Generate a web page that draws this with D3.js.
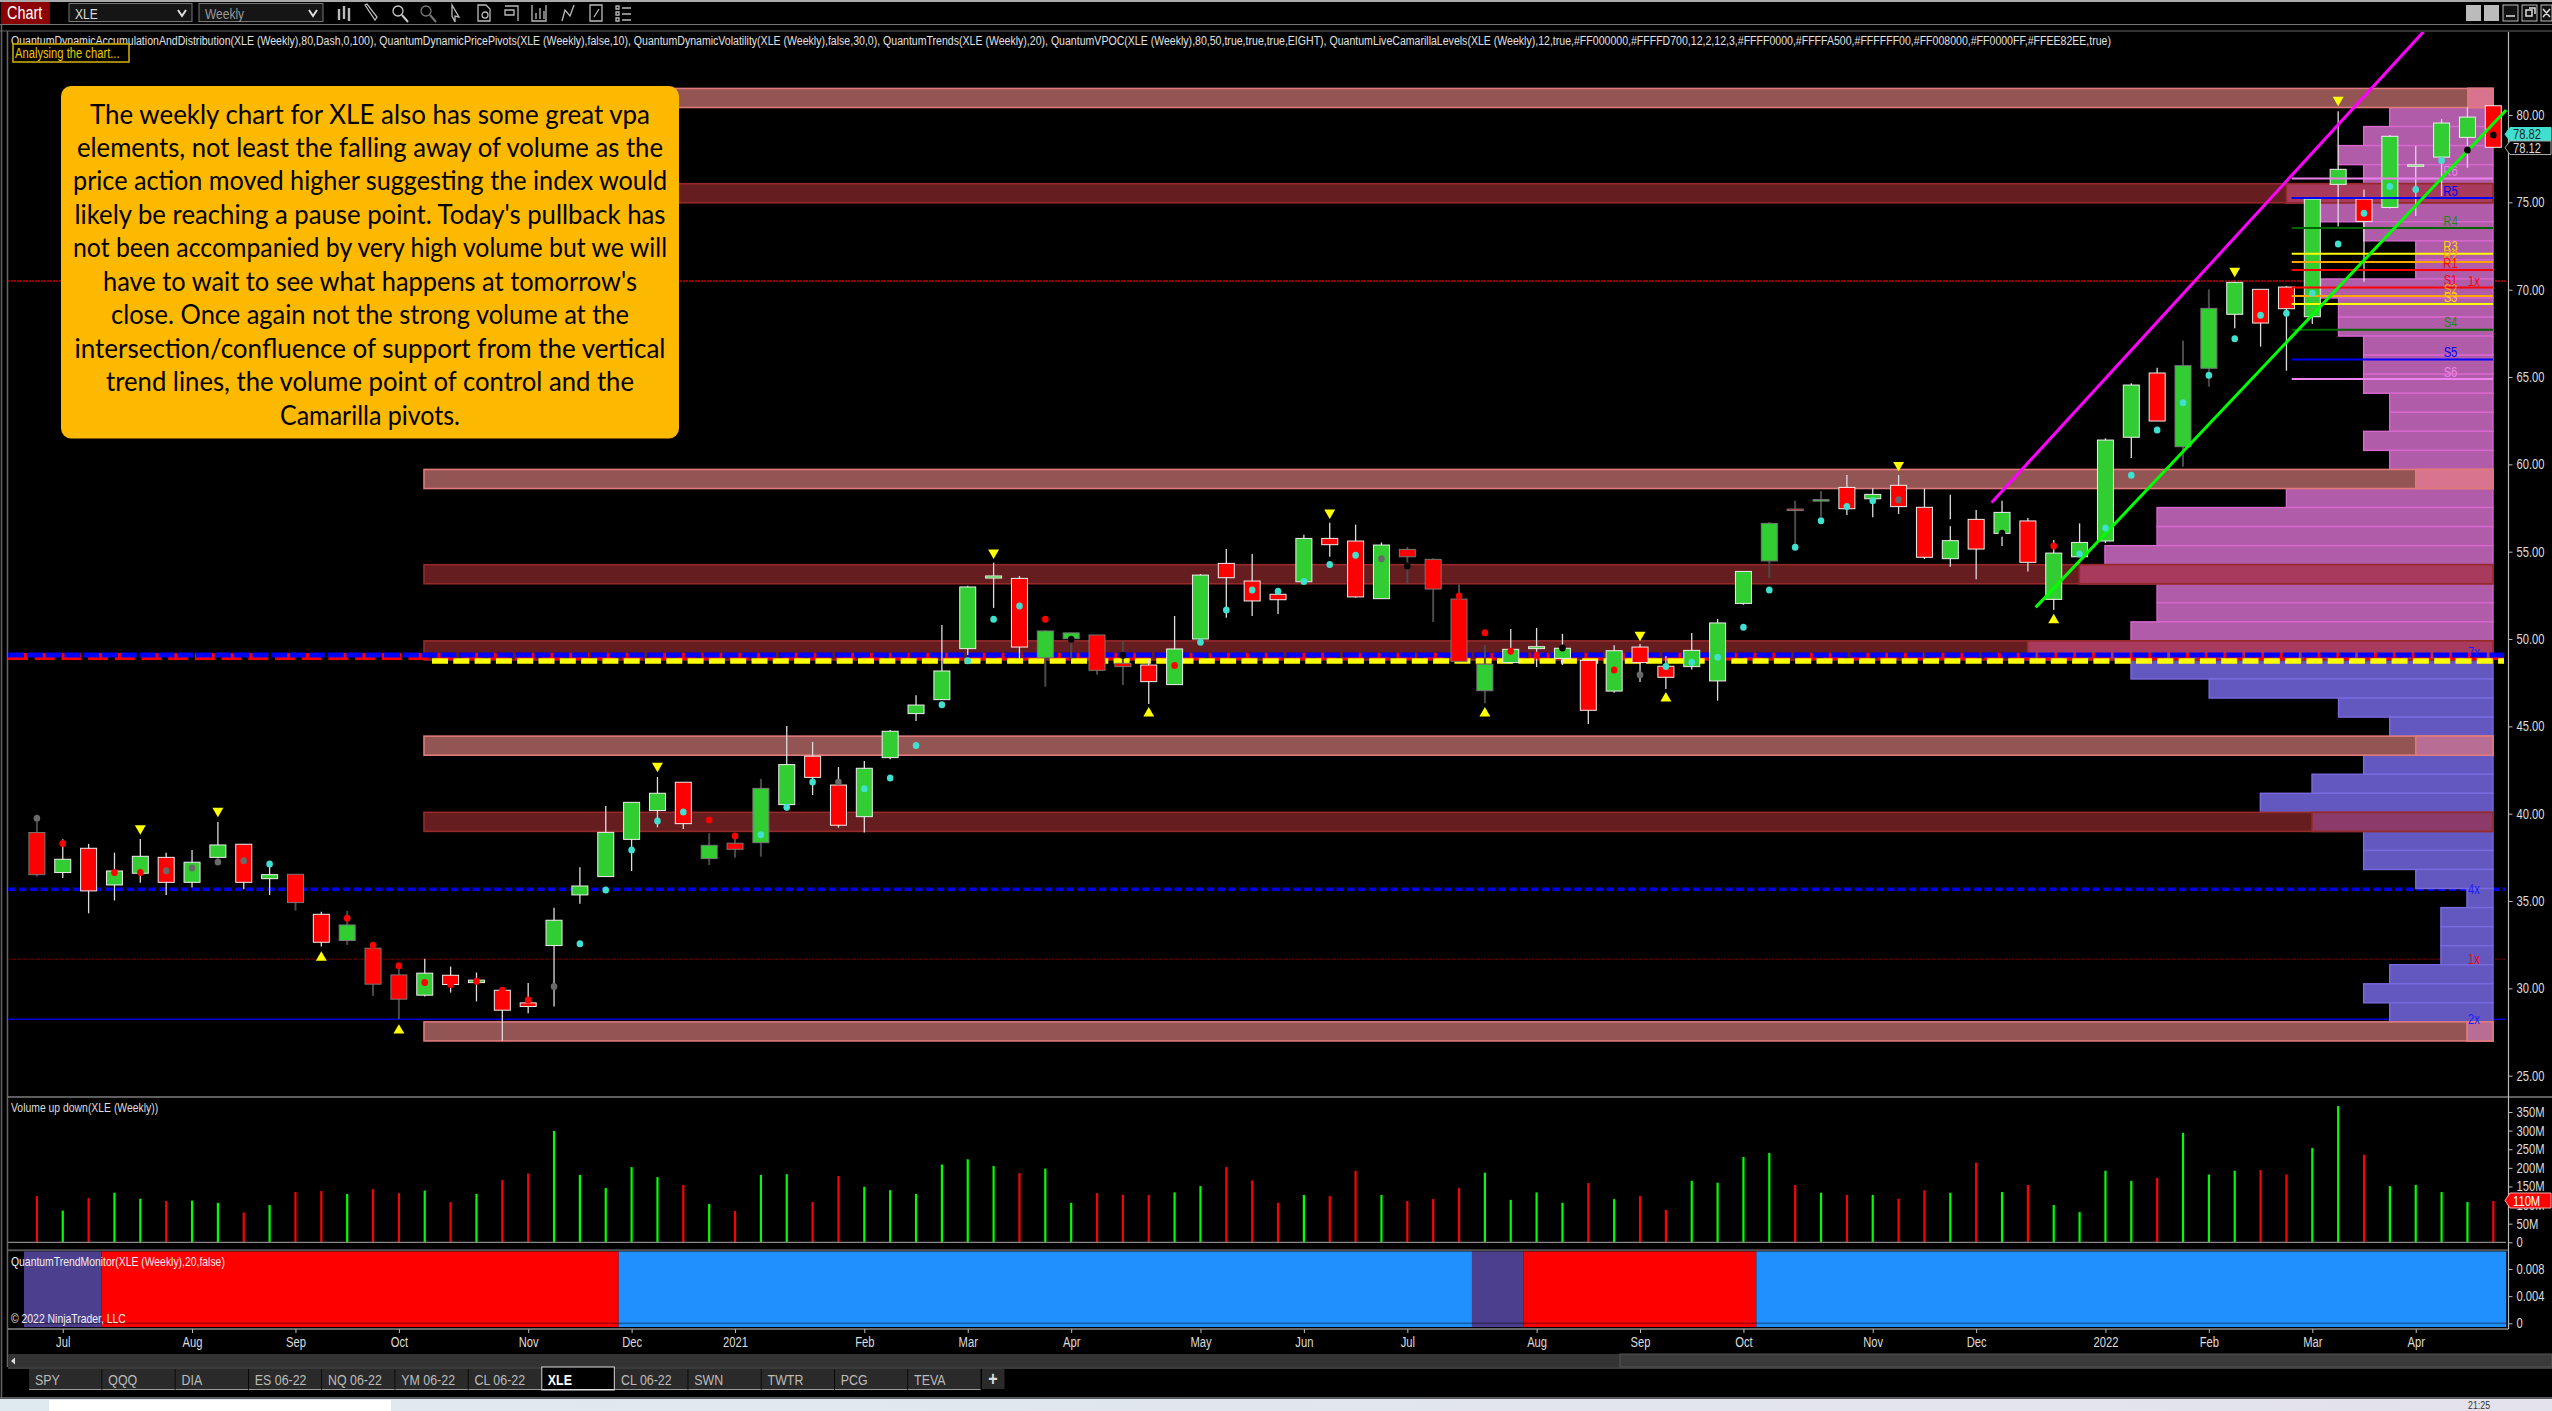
<!DOCTYPE html>
<html><head><meta charset="utf-8">
<style>
html,body{margin:0;padding:0;background:#000;overflow:hidden}
svg{display:block}
text{font-family:"Liberation Sans",Arial,sans-serif;}
</style>
<script src="https://d3js.org/d3.v7.min.js"></script>
</head><body><svg id="c" width="2552" height="1411" viewBox="0 0 2552 1411"></svg>
<script>
// ---- DATA ----
const opens=[38.92,36.63,38.02,35.92,36.59,37.50,36.07,37.50,38.25,36.28,36.53,34.24,32.74,32.30,30.77,29.61,30.75,30.33,29.89,29.17,32.45,35.35,36.40,38.53,40.18,41.80,37.43,38.31,38.34,40.52,43.29,41.64,39.83,43.21,45.73,46.53,49.45,53.49,53.47,48.93,50.02,50.23,48.61,48.51,47.39,50.00,54.33,53.32,52.56,53.28,55.76,55.61,52.31,55.13,54.56,52.29,47.04,48.65,49.45,48.89,48.78,47.02,49.54,48.44,48.42,47.60,52.04,54.47,57.44,57.90,58.68,58.03,58.80,57.54,54.60,56.85,56.05,56.76,52.27,54.71,55.61,61.55,65.23,61.01,65.50,68.59,70.02,70.15,68.45,76.03,75.19,74.71,77.10,77.59,78.72,80.53];
const highs=[39.55,38.53,38.27,37.77,38.55,37.77,37.92,39.53,38.25,37.12,36.53,34.38,34.44,32.30,31.15,31.69,31.25,30.91,29.89,30.30,34.61,36.93,40.44,40.65,42.10,41.80,38.88,38.55,41.99,45.02,44.11,42.67,43.02,44.79,46.78,50.80,53.05,54.37,53.61,50.52,50.35,50.23,49.89,48.84,51.32,53.72,55.15,54.87,52.73,55.97,56.66,56.55,55.53,55.27,54.62,53.13,49.66,50.57,50.63,50.29,48.78,49.64,49.72,49.03,50.35,51.15,53.87,56.70,57.92,58.47,59.39,58.63,59.39,58.61,58.26,57.39,57.92,56.93,55.67,56.62,61.49,64.64,65.53,67.08,70.02,70.46,70.02,70.21,75.19,80.21,75.74,78.86,78.22,79.77,80.44,80.53];
const lows=[36.40,36.32,34.30,35.03,36.05,35.35,35.77,37.45,35.67,35.35,34.45,32.39,32.49,29.57,28.23,29.53,29.76,29.25,27.00,28.58,28.96,34.84,36.40,36.72,39.22,39.13,37.06,37.48,37.54,40.18,41.07,39.20,38.93,43.11,45.31,46.53,49.09,51.78,48.89,47.27,48.89,47.96,47.37,46.28,47.39,50.00,51.22,51.32,51.43,53.28,54.71,52.37,52.31,53.15,50.97,48.72,46.32,48.61,48.40,48.51,45.14,46.93,47.54,47.14,48.26,46.47,51.96,53.49,55.29,57.00,57.10,56.97,57.16,54.58,54.14,53.42,55.32,53.86,51.66,54.71,55.50,60.36,62.48,59.87,64.45,67.79,66.74,65.36,68.03,73.61,70.46,74.65,74.22,75.36,76.98,78.15];
const closes=[36.51,37.39,35.58,36.72,37.56,36.07,37.22,38.21,36.07,36.51,34.91,32.64,33.63,30.24,29.38,30.87,30.22,30.47,28.75,28.96,33.90,35.86,38.93,40.65,41.17,39.43,38.19,37.96,41.45,42.81,42.08,39.34,42.60,44.72,46.22,48.17,52.98,53.61,49.54,50.46,50.35,48.21,48.42,47.56,49.43,53.66,53.51,52.18,52.25,55.76,55.40,52.41,55.38,54.71,52.86,48.72,48.55,49.41,49.56,49.47,45.92,49.33,48.65,47.81,49.35,50.92,53.87,56.62,57.37,57.98,57.46,58.28,57.58,54.68,55.63,55.15,57.25,54.39,54.92,55.53,61.39,64.54,62.48,65.65,68.93,70.42,68.09,68.91,75.19,76.89,73.91,78.78,77.15,79.54,79.88,78.15];
const dotPrices=[39.74,38.29,null,36.63,36.63,36.74,36.89,37.24,37.31,37.12,null,34.97,34.02,32.47,31.29,30.33,30.22,30.41,29.89,29.34,30.10,32.55,35.63,37.92,39.58,40.10,39.64,38.72,38.80,40.37,41.82,41.82,41.43,42.05,43.91,46.24,48.76,51.13,51.89,51.13,49.98,null,49.07,null,48.49,49.81,51.66,52.81,52.73,53.30,54.26,54.79,54.60,54.18,null,52.46,50.36,49.30,49.07,49.49,null,48.23,47.96,48.42,48.67,48.95,50.67,52.81,55.25,56.77,57.58,57.92,57.98,57.31,56.66,null,56.05,null,55.32,54.87,56.36,59.37,61.97,63.53,65.10,67.19,68.53,68.65,69.79,72.61,74.37,75.90,75.74,77.40,78.00,78.85];
const dotKinds="grnrrggggcgnrrrrrrrrgcccccrrcccgcccccccrnrncrcccccccgnrrrrrnrrgcccccccccgrnrnrrccccccccccccccc".split("");
const downMarkers=[[4,39.16],[7,40.16],[24,42.73],[37,54.94],[50,57.23],[62,50.23],[72,59.96],[85,71.07],[89,80.86]];
const upMarkers=[[11,31.76],[14,27.59],[43,45.75],[56,45.75],[63,46.61],[78,51.09]];
const darkWicks=[0,10,12,13,14,26,27,28,39,40,41,42,53,54,55,56,67,68,69,83,84];
const volumes=[124,85,119,133,117,111,112,106,80,100,135,138,130,143,132,139,108,130,167,185,299,181,146,202,175,154,103,84,181,183,108,178,149,140,130,209,223,205,186,198,106,132,128,127,134,151,202,166,106,127,124,192,127,111,116,146,187,114,134,106,159,116,124,87,165,160,229,240,154,133,127,127,117,140,133,214,135,154,100,81,192,165,173,294,182,192,194,182,253,366,235,151,154,135,108,111];
const monthBars=[1,6,10,14,19,23,27,32,36,40,45,49,53,58,62,66,71,75,80,84,88,92];
const monthLabels=["Jul","Aug","Sep","Oct","Nov","Dec","2021","Feb","Mar","Apr","May","Jun","Jul","Aug","Sep","Oct","Nov","Dec","2022","Feb","Mar","Apr"];
const profileVolumes=[5.4,22.2,27.8,33.2,27.8,44.4,37,27.8,16.6,16.6,37,33.2,33.2,27.8,27.8,27.8,22.2,22.2,27.8,22.2,16.6,44.4,72.2,72.2,83.4,88.9,72.2,72.2,77.8,100,77.8,61,33.2,22.2,16.6,27.8,38.9,50,38.9,27.8,27.8,16.6,5.6,11.2,11.2,11.2,22.2,27.8,22.2,5.6];
const profileTop=81.52, profileBottom=26.99, pocBin=29;
const bandBins=[0,5,20,25,29,34,38,49];
const bandKinds=["light","dark","light","dark","dark","light","dark","light"];
const camLabels=["R6","R5","R4","R3","R2","R1","S1","S2","S3","S4","S5","S6"];
const camLevels=[76.36,75.25,73.53,72.06,71.59,71.13,70.12,69.64,69.18,67.71,66.00,64.89];
const camColors=["#ee82ee","#0000ff","#006400","#ffff00","#ffa500","#ff0000","#ff0000","#ffa500","#ffff00","#006400","#0000ff","#ee82ee"];
const trendSpans=[3,20,33,2,9,29];
const trendColors=["#4b3f8e","#ff0000","#2090ff","#4b3f8e","#ff0000","#2090ff"];
const priceTicks=[25,30,35,40,45,50,55,60,65,70,75,80];
const volTicks=[0,50,100,150,200,250,300,350];
const trendTicks=[0,0.004,0.008];
const magentaLine=[[75.6,57.82],[92.3,84.77]];
const greenLine=[[77.3,51.81],[95.5,80.29]];
const tabs=["SPY","QQQ","DIA","ES 06-22","NQ 06-22","YM 06-22","CL 06-22","XLE","CL 06-22","SWN","TWTR","PCG","TEVA"];
const noteLines=["The weekly chart for XLE also has some great vpa","elements, not least the falling away of volume as the","price action moved higher suggesting the index would","likely be reaching a pause point. Today's pullback has","not been accompanied by very high volume but we will","have to wait to see what happens at tomorrow's","close. Once again not the strong volume at the","intersection/confluence of support from the vertical","trend lines, the volume point of control and the","Camarilla pivots."];
const noteWidths=[560,586,594,591,594,534,518,591,528,180];
const headerText="QuantumDynamicAccumulationAndDistribution(XLE (Weekly),80,Dash,0,100), QuantumDynamicPricePivots(XLE (Weekly),false,10), QuantumDynamicVolatility(XLE (Weekly),false,30,0), QuantumTrends(XLE (Weekly),20), QuantumVPOC(XLE (Weekly),80,50,true,true,true,EIGHT), QuantumLiveCamarillaLevels(XLE (Weekly),12,true,#FF000000,#FFFFD700,12,2,12,3,#FFFF0000,#FFFFA500,#FFFFFF00,#FF008000,#FF0000FF,#FFEE82EE,true)";

// ---- LAYOUT ----
const svg=d3.select("#c");
const W=2552,H=1411,axisX=2508.5,chartL=8,profR=2493,bandL=424;
const x=d3.scaleLinear().domain([0,95]).range([36.9,2493.3]);
const y=d3.scaleLinear().domain([25,80]).range([1075.7,115]);
const yVol=d3.scaleLinear().domain([0,350]).range([1242.3,1112]);
const yTrend=d3.scaleLinear().domain([0,0.008]).range([1323.3,1269]);
const binScale=d3.scaleBand().domain(d3.range(profileVolumes.length)).range([y(profileTop),y(profileBottom)]);
const pW=d3.scaleLinear().domain([0,100]).range([0,465.3]);
const clipId="plot";
svg.append("defs").append("clipPath").attr("id",clipId).append("rect").attr("x",chartL).attr("y",32).attr("width",axisX-chartL).attr("height",1060);

svg.append("rect").attr("width",W).attr("height",H).attr("fill","#000");
const rule=(x1,y1,x2,y2,c,w)=>svg.append("line").attr("x1",x1).attr("y1",y1).attr("x2",x2).attr("y2",y2).attr("stroke",c).attr("stroke-width",w);
const label=(g,t,xx,yy,size,fill,anchor)=>g.append("text").attr("x",xx).attr("y",yy).attr("font-size",size).attr("fill",fill).attr("text-anchor",anchor||"start").attr("dominant-baseline","central").text(t);

// window chrome
rule(0,1,W,1,"#aaa",2);
rule(0,24.5,W,24.5,"#777",1);
rule(0,31,W,31,"#333",2);
rule(1.5,24,1.5,1398,"#666",1.5);
rule(7.5,31,7.5,1367,"#666",1.5);
svg.append("rect").attr("x",1).attr("y",2).attr("width",49).attr("height",22).attr("fill","#8b0000");
label(svg,"Chart",7,13,18,"#fff");
[[69,"XLE",123],[199,"Weekly",124]].forEach(([xx,t,w],k)=>{
  svg.append("rect").attr("x",xx).attr("y",3.5).attr("width",w).attr("height",18).attr("fill","#151515").attr("stroke","#777");
  label(svg,t,xx+6,13,15,k?"#999":"#ddd");
  svg.append("path").attr("d",`M${xx+w-14},10 l4,6 l4,-6`).attr("fill","none").attr("stroke","#ddd").attr("stroke-width",2);
});
const ic=svg.append("g").attr("fill","none").attr("stroke","#bbb").attr("stroke-width",1.3);
[344,371,400,428,455,484,512,539,568,596,623].forEach((cx,k)=>{
  const g=ic.append("g").attr("transform",`translate(${cx},13)`);
  if(k==0){g.append("path").attr("d","M-5,-4V7M0,-7V6M5,-5V8").attr("stroke-width",2.4);}
  else if(k==1){g.append("path").attr("d","M-6,-8L4,7L6,4L-4,-9Z");}
  else if(k==2||k==3){g.append("circle").attr("cx",-2).attr("cy",-2).attr("r",5).attr("stroke",k==2?"#ccc":"#777");g.append("path").attr("d","M2,2L8,9").attr("stroke-width",2).attr("stroke",k==2?"#ccc":"#777");}
  else if(k==4){g.append("path").attr("d","M-3,-8L4,4L0,3L0,9L-3,3Z");}
  else if(k==5){g.append("path").attr("d","M-6,-8H2L6,-4V8H-6Z");g.append("circle").attr("cx",1).attr("cy",2).attr("r",3);}
  else if(k==6){g.append("path").attr("d","M-7,-7H6V8M-7,-3H2V2H-7Z");}
  else if(k==7){g.append("path").attr("d","M-7,-8V8H7V-8M-3,6V0M1,6V-5M5,6V-2");}
  else if(k==8){g.append("path").attr("d","M-6,8L-3,-3L2,3L6,-8");}
  else if(k==9){g.append("path").attr("d","M-6,-8H6V8H-6ZM-2,4L3,-4");}
  else {g.append("path").attr("d","M-7,-7H-4V-4H-7ZM-7,-1H-4V2H-7ZM-7,5H-4V8H-7ZM-1,-5H8M-1,1H8M-1,7H8");}
});
// window buttons
[2466,2484].forEach(xx=>svg.append("rect").attr("x",xx).attr("y",5).attr("width",15).attr("height",16).attr("fill","#bbb"));
[2503,2522,2541].forEach((xx,k)=>{
  svg.append("rect").attr("x",xx).attr("y",5).attr("width",k==2?11:15).attr("height",16).attr("fill","#111").attr("stroke","#bbb");
});
svg.append("path").attr("d","M2506,16h9M2526,10h6v6h-6zM2529,8h6v6M2543,9l7,8M2550,9l-7,8").attr("fill","none").attr("stroke","#ddd").attr("stroke-width",1.5);

const plot=svg.append("g").attr("clip-path",`url(#${clipId})`);

// volatility level lines (behind the bands)
const lvl=(p,c,w,dash)=>plot.append("line").attr("x1",chartL).attr("x2",2506).attr("y1",y(p)).attr("y2",y(p)).attr("stroke",c).attr("stroke-width",w).attr("stroke-dasharray",dash);
lvl(70.5,"#c80000",1.5,"2,1");
lvl(31.67,"#5a0000",1.5,"2,1");
lvl(28.23,"#0000e0",1.5,"3,1");
lvl(35.67,"#0000e8",3.4,"7.5,3.3");

// volume profile
const profile=plot.append("g");
profile.selectAll("rect").data(profileVolumes).join("rect")
  .attr("x",d=>profR-pW(d)).attr("width",d=>pW(d))
  .attr("y",(d,i)=>binScale(i)).attr("height",binScale.bandwidth())
  .attr("fill",(d,i)=>i<=pocBin?"#b05ca9":"#6358bf")
  .attr("stroke",(d,i)=>i<=pocBin?"#d867cf":"#7a6ae0").attr("stroke-width",1.4);

// bands
const overlap={light:["#d9748f","#b86d95"],dark:["#a83a5e","#8b3a6a"]};
bandBins.forEach((b,k)=>{
  const kind=bandKinds[k],lightB=kind=="light",yy=binScale(b),h=binScale.bandwidth(),lx=profR-pW(profileVolumes[b]);
  plot.append("rect").attr("x",bandL).attr("y",yy).attr("width",profR-bandL).attr("height",h)
    .attr("fill",lightB?"#935454":"#651d1f").attr("stroke",lightB?"#e07a7a":"#962a2a").attr("stroke-width",1.6);
  plot.append("rect").attr("x",lx).attr("y",yy).attr("width",profR-lx).attr("height",h)
    .attr("fill",overlap[kind][b<=pocBin?0:1]).attr("stroke",lightB?"#e07a7a":"#962a2a").attr("stroke-width",1.6);
});

// point-of-control dashes
const poc=(x1,p,c,w,dash)=>plot.append("line").attr("x1",x1).attr("x2",2504).attr("y1",y(p)).attr("y2",y(p)).attr("stroke",c).attr("stroke-width",w).attr("stroke-dasharray",dash);
poc(chartL,49.0,"#ff0000",7,"20,6.7");
poc(432,48.74,"#ffff00",5.5,"16,5.3");
poc(chartL,49.08,"#0000ff",5,"16,2.8");

// candles
const candles=plot.append("g");
const isDark=i=>darkWicks.includes(i);
candles.selectAll("line").data(d3.range(opens.length)).join("line")
  .attr("x1",i=>x(i)).attr("x2",i=>x(i)).attr("y1",i=>y(highs[i])).attr("y2",i=>y(lows[i]))
  .attr("stroke",i=>isDark(i)?"#4a4a4a":"#ddd").attr("stroke-width",i=>isDark(i)?2:1.3);
candles.selectAll("rect").data(d3.range(opens.length)).join("rect")
  .attr("x",i=>x(i)-8).attr("width",16)
  .attr("y",i=>y(Math.max(opens[i],closes[i])))
  .attr("height",i=>Math.max(1.5,Math.abs(y(opens[i])-y(closes[i]))))
  .attr("fill",i=>closes[i]>opens[i]?"#32cd32":"#ff0000")
  .attr("stroke",i=>isDark(i)?"#777":"#eee").attr("stroke-width",1);

// camarilla levels
const cam=plot.append("g");
cam.selectAll("line").data(camLevels).join("line")
  .attr("x1",2291.7).attr("x2",profR).attr("y1",d=>y(d)).attr("y2",d=>y(d))
  .attr("stroke",(d,i)=>camColors[i]).attr("stroke-width",2);
cam.selectAll("text").data(camLevels).join("text")
  .attr("x",2450.5).attr("y",d=>y(d)-7.3).attr("text-anchor","middle").attr("dominant-baseline","central")
  .attr("font-size",14).attr("fill",(d,i)=>camColors[i]=="#006400"?"#1b8a1b":camColors[i]=="#ffff00"?"#ffd700":camColors[i]).text((d,i)=>camLabels[i]);
[[70.5,"1x","#ff0000"],[31.67,"1x","#ff0000"],[28.23,"2x","#1c1cff"],[35.67,"4x","#1c1cff"],[49.25,"7x","#1c1cff"]].forEach(([p,t,c])=>
  label(plot,t,2474,y(p),14,c,"middle"));

// channel lines
const lineGen=d3.line().x(d=>x(d[0])).y(d=>y(d[1]));
plot.append("path").attr("d",lineGen(magentaLine)).attr("stroke","#ff00ff").attr("stroke-width",3).attr("fill","none");
plot.append("path").attr("d",lineGen(greenLine)).attr("stroke","#00ff00").attr("stroke-width",3).attr("fill","none");

// signal dots and markers
const dotColor={c:"#40e0d0",r:"#ff0000",g:"#696969"};
plot.append("g").selectAll("ellipse").data(d3.range(opens.length).filter(i=>dotPrices[i]!==null)).join("ellipse")
  .attr("cx",i=>x(i)).attr("cy",i=>y(dotPrices[i])).attr("rx",3.3).attr("ry",3.5)
  .attr("fill",i=>dotColor[dotKinds[i]]);
const tri=d3.symbol().type(d3.symbolTriangle).size(52);
plot.append("g").selectAll("path.dn").data(downMarkers).join("path")
  .attr("d",tri).attr("transform",d=>`translate(${x(d[0])},${y(d[1])}) rotate(180)`).attr("fill","#ffff00");
plot.append("g").selectAll("path.up").data(upMarkers).join("path")
  .attr("d",tri).attr("transform",d=>`translate(${x(d[0])},${y(d[1])})`).attr("fill","#ffff00");

// header text
label(svg,headerText,11,41,12.5,"#e0e0e0").attr("textLength",2100).attr("lengthAdjust","spacingAndGlyphs");
svg.append("rect").attr("x",13).attr("y",44).attr("width",116).attr("height",18).attr("fill","#000").attr("stroke","#c8a800").attr("stroke-width",1.6);
label(svg,"Analysing the chart...",15,53,14,"#e8c800");

// note box
svg.append("rect").attr("x",61).attr("y",86).attr("width",618).attr("height",352.5).attr("rx",10).attr("fill","#fdb900");
noteLines.forEach((t,i)=>{
  svg.append("text").attr("x",370).attr("y",113.5+i*33.45).attr("text-anchor","middle").attr("dominant-baseline","central")
    .style("font-family","Lato,'Open Sans',sans-serif").attr("font-size",26).attr("fill","#000")
    .attr("textLength",noteWidths[i]).attr("lengthAdjust","spacingAndGlyphs").text(t);
});

// price axis
rule(axisX,32,axisX,1329,"#bbb",1.2);
const axP=svg.append("g").attr("transform",`translate(${axisX},0)`)
  .call(d3.axisRight(y).tickValues(priceTicks).tickFormat(d3.format(".2f")).tickSize(4).tickPadding(4));
const axV=svg.append("g").attr("transform",`translate(${axisX},0)`)
  .call(d3.axisRight(yVol).tickValues(volTicks).tickFormat(d=>d?d+"M":"0").tickSize(4).tickPadding(4));
const axT=svg.append("g").attr("transform",`translate(${axisX},0)`)
  .call(d3.axisRight(yTrend).tickValues(trendTicks).tickFormat(d=>d?d3.format(".3f")(d):"0").tickSize(4).tickPadding(4));
[axP,axV,axT].forEach(a=>{a.select(".domain").remove();a.selectAll("line").attr("stroke","#bbb");
  a.selectAll("text").attr("fill","#ddd").attr("font-size",14).style("font-family","'Liberation Sans',sans-serif");});

// price tags
const flag=(yy,h,fill,stroke,t,tc)=>{
  svg.append("path").attr("d",`M2510,${yy} L2551,${yy} L2551,${yy+h} L2510,${yy+h} L2505,${yy+h/2} Z`).attr("fill",fill).attr("stroke",stroke);
  label(svg,t,2513,yy+h/2,14,tc);
};
flag(127.5,13.5,"#40e0d0","#40e0d0","78.82","#222");
flag(141,13.5,"#000","#aaa","78.12","#ddd");

// volume panel
rule(chartL,1097,W,1097,"#bbb",1.2);
label(svg,"Volume up down(XLE (Weekly))",11,1107,13,"#ddd");
svg.append("g").selectAll("line").data(volumes).join("line")
  .attr("x1",(d,i)=>x(i)).attr("x2",(d,i)=>x(i)).attr("y1",yVol(0)).attr("y2",d=>yVol(d))
  .attr("stroke",(d,i)=>closes[i]>opens[i]?"#00ff00":"#ff0000").attr("stroke-width",2.2);
rule(chartL,yVol(0),2506,yVol(0),"#888",1.2);
rule(chartL,1250.3,2508,1250.3,"#555",2);
flag(1193,15,"#ff0000","#ffb0b0","110M","#fff");

// trend monitor
let start=0;
const spans=trendSpans.map((n,k)=>{const s={a:start,b:start+n-1,c:trendColors[k]};start+=n;return s;});
svg.append("g").selectAll("rect").data(spans).join("rect")
  .attr("x",d=>x(d.a-0.5)).attr("width",d=>x(d.b+0.5)-x(d.a-0.5)).attr("y",1251.5).attr("height",75.5).attr("fill",d=>d.c);
svg.append("rect").attr("x",chartL).attr("y",yTrend(0)-0.8).attr("width",2498).attr("height",1.6).attr("fill","#000").attr("opacity",.35);
label(svg,"QuantumTrendMonitor(XLE (Weekly),20,false)",11,1261,13,"#eee");
label(svg,"© 2022 NinjaTrader, LLC",11,1318,13,"#eee");

// time axis
rule(chartL,1329,axisX,1329,"#ccc",1.2);
const axX=svg.append("g").attr("transform","translate(0,1329)")
  .call(d3.axisBottom(x).tickValues(monthBars).tickFormat((d,i)=>monthLabels[i]).tickSize(4).tickPadding(4));
axX.select(".domain").remove();axX.selectAll("line").attr("stroke","#bbb");
axX.selectAll("text").attr("fill","#ddd").attr("font-size",14).style("font-family","'Liberation Sans',sans-serif");

// scroll bar
svg.append("rect").attr("x",chartL).attr("y",1354).attr("width",W-chartL).attr("height",13).attr("fill","#333");
rule(chartL,1368,W,1368,"#777",1);
svg.append("path").attr("d","M11,1361 l4,-3.5 v7 Z").attr("fill","#ddd");
svg.append("path").attr("d","M2547,1361 l-4,-3.5 v7 Z").attr("fill","#ddd");
svg.append("rect").attr("x",1620).attr("y",1354).attr("width",932).attr("height",13).attr("fill","#3a3a3a").attr("stroke","#555");

// tabs
const tabX=d3.scaleBand().domain(d3.range(tabs.length)).range([29,980.6]).paddingInner(0.01);
tabs.forEach((t,i)=>{
  const act=t=="XLE";
  svg.append("rect").attr("x",tabX(i)).attr("y",act?1367:1369).attr("width",tabX.bandwidth()).attr("height",act?23:20)
    .attr("fill",act?"#000":"#2a2a2a").attr("stroke",act?"#ddd":"none");
  rule(tabX(i),1389.5,tabX(i)+tabX.bandwidth(),1389.5,act?"#ddd":"#999",1);
  label(svg,t,tabX(i)+6,1379,15.5,act?"#fff":"#bbb").attr("font-weight",act?"bold":"normal");
});
svg.append("rect").attr("x",982).attr("y",1369).attr("width",22.5).attr("height",20).attr("fill","#2a2a2a");
label(svg,"+",993,1379,20,"#ddd","middle").attr("font-weight","bold");

// desktop taskbar
rule(0,1398,W,1398,"#777",1.5);
const grad=svg.append("defs").append("linearGradient").attr("id","tb");
grad.append("stop").attr("offset","0").attr("stop-color","#dfeaf0");
grad.append("stop").attr("offset","1").attr("stop-color","#e4e2ec");
svg.append("rect").attr("y",1399).attr("width",W).attr("height",12).attr("fill","url(#tb)");
svg.append("rect").attr("x",49).attr("y",1400).attr("width",342).attr("height",11).attr("fill","#fff");
label(svg,"21:25",2468,1405,11,"#333");

// the reference's UI type is horizontally squeezed: narrow every label by the same ratio
svg.selectAll("text").filter(function(){return !this.hasAttribute("textLength");})
  .each(function(){const t=d3.select(this);const n=this.getComputedTextLength();
    t.attr("textLength",n*0.8).attr("lengthAdjust","spacingAndGlyphs");});
</script></body></html>
